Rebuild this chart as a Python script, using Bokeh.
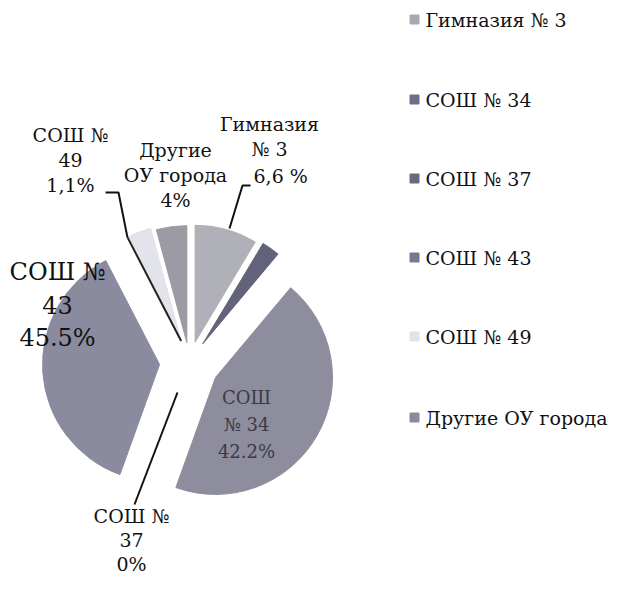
import math
from bokeh.plotting import figure
from bokeh.models import Range1d, ColumnDataSource
from bokeh.core.properties import value
from bokeh.embed import file_html
from bokeh.resources import INLINE

# ---- data ----
categories = ["Гимназия № 3", "СОШ № 34", "СОШ № 37", "СОШ № 43", "СОШ № 49", "Другие ОУ города"]
legend_colors = ["#a9a9b2", "#6e6e86", "#6a6a7e", "#77778f", "#e2e2ea", "#8a8a9a"]

# wedges as drawn in the picture, clockwise from 12 o'clock (shares in %)
wedge_names = ["Гимназия № 3", "узкий сектор", "СОШ № 34", "СОШ № 37", "СОШ № 43", "СОШ № 49", "Другие ОУ города"]
wedge_share = [8.6, 2.5, 44.4, 0.0, 36.9, 3.4, 4.2]
wedge_explode = [21, 23, 30, 0, 30, 23, 20]
wedge_colors = ["#b0b0b8", "#62627a", "#8d8d9e", "#8d8d9e", "#8b8ba0", "#e3e3eb", "#9b9ba4"]

FONT = "DejaVu Serif"

W, H = 610, 580
p = figure(width=W, height=H, output_backend="svg", toolbar_location=None,
           x_range=Range1d(8, 8 + W), y_range=Range1d(8, 8 + H),
           min_border=0)
p.axis.visible = False
p.grid.visible = False
p.outline_line_color = None
p.background_fill_color = "white"


def Y(py):
    return 596 - py


CX, CY = 197, Y(370)
R = 117

xs, ys, starts, ends, cols = [], [], [], [], []
tips = {}
b = 0.0
for name, s, d, c in zip(wedge_names, wedge_share, wedge_explode, wedge_colors):
    span = s / 100.0 * 360.0
    b1, b2 = b, b + span
    mid = math.radians((b1 + b2) / 2)
    x0 = CX + d * math.sin(mid)
    y0 = CY + d * math.cos(mid)
    tips[name] = (x0, y0, b1, b2)
    if s > 0:
        xs.append(x0); ys.append(y0)
        starts.append(math.radians(90 - b2)); ends.append(math.radians(90 - b1))
        cols.append(c)
    b = b2

src = ColumnDataSource(dict(x=xs, y=ys, start=starts, end=ends, color=cols))
p.wedge(x="x", y="y", radius=R, start_angle="start", end_angle="end",
        direction="anticlock", fill_color="color", line_color="color",
        line_width=1, source=src)

# dark edge along the left side of the СОШ № 49 wedge
x49, y49, b49, _ = tips["СОШ № 49"]
ex = x49 + R * math.sin(math.radians(b49))
ey = y49 + R * math.cos(math.radians(b49))
p.line([x49, ex], [y49, ey], line_color="#222222", line_width=2)

# leader lines
p.line([258, 250, 237], [Y(193), Y(193), Y(236)], line_color="#111111", line_width=2)
p.line([113, 126, ex], [Y(200), Y(200), ey], line_color="#111111", line_width=2)
p.line([142, 185], [Y(512), Y(400)], line_color="#111111", line_width=2)


def label(lines, x, y0, dy, size, color="#111111"):
    p.text(x=[x] * len(lines), y=[Y(y0 + i * dy) for i in range(len(lines))],
           text=lines, text_font=value(FONT), text_font_size=size,
           text_align="center", text_baseline="middle", text_color=color)


label(["СОШ №", "49", "1,1%"], 78, 142, 25, "19px")
label(["Другие", "ОУ города", "4%"], 183, 157, 25, "19px")
label(["Гимназия", "№ 3"], 277, 131, 25, "19px")
p.text(x=[261], y=[Y(183)], text=["6,6 %"], text_font=value(FONT), text_font_size="19px",
       text_align="left", text_baseline="middle", text_color="#111111")
label(["СОШ №", "43", "45.5%"], 65, 279, 33, "24px")
label(["СОШ", "№ 34", "42.2%"], 254, 405, 27, "18px", color="#3a3a48")
label(["СОШ №", "37", "0%"], 139, 523, 24, "19px")

# legend
leg_y = [27, 107, 186, 265, 344, 425]
p.scatter(x=[422] * len(categories), y=[Y(v) for v in leg_y], marker="square", size=9,
          fill_color=legend_colors, line_color=legend_colors)
p.text(x=[433] * len(categories), y=[Y(v) for v in leg_y], text=categories,
       text_font=value(FONT), text_font_size="19px", text_align="left",
       text_baseline="middle", text_color="#111111")

open("out.html", "w").write(file_html(p, INLINE))
